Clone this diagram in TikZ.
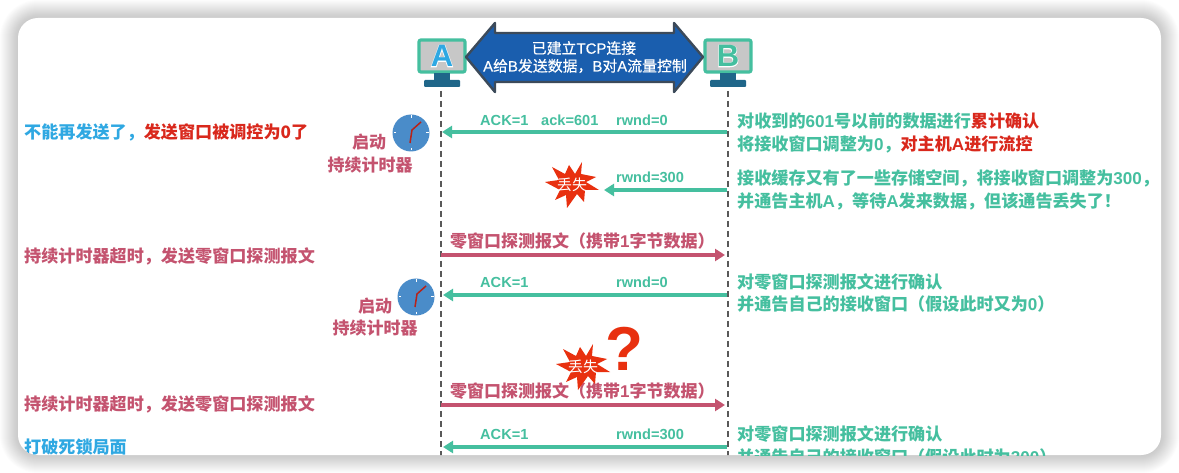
\documentclass[tikz,border=0pt]{standalone}
\usepackage{fontspec}
\setmainfont{Noto Sans CJK SC}
\newfontfamily\latfont{Liberation Sans}
\newfontfamily\linkfont[FakeBold=0.4]{Noto Sans CJK SC}
\newfontfamily\linklat[FakeBold=0.4]{Liberation Sans}
\newfontfamily\halofont[FakeBold=4]{Liberation Sans Bold}
\usetikzlibrary{arrows.meta}
\definecolor{tealc}{HTML}{45BF9F}
\definecolor{pinkc}{HTML}{C4536F}
\definecolor{redc}{HTML}{D9281C}
\definecolor{bluec}{HTML}{2FA8E2}
\definecolor{navyc}{HTML}{1A5EAE}
\definecolor{edgec}{HTML}{3C4A5A}
\definecolor{standc}{HTML}{1F6689}
\definecolor{clockc}{HTML}{4A8CC9}
\definecolor{burstc}{HTML}{E8300F}
\tikzset{
	lifeline/.style={line width=1.5pt, dash pattern=on 6pt off 4pt, color=black!65},
	ackline/.style={line width=3.2pt, color=tealc, -{Triangle[length=10pt,width=12pt]}},
	probeline/.style={line width=3.2pt, color=pinkc, -{Triangle[length=10pt,width=12pt]}},
	leftlabel/.style={anchor=west, inner sep=0pt, font=\fontsize{17.1}{17.1}\selectfont\bfseries},
	rightlabel/.style={anchor=west, inner sep=0pt, color=tealc, font=\fontsize{17.1}{17.1}\selectfont\bfseries},
	acklabel/.style={anchor=west, inner sep=0pt, color=tealc, font=\fontsize{14.6}{14.6}\selectfont\latfont\bfseries},
	probelabel/.style={anchor=west, inner sep=0pt, color=pinkc, font=\fontsize{17}{17}\selectfont\bfseries},
	timerlabel/.style={inner sep=0pt, color=pinkc, font=\fontsize{17}{17}\selectfont\bfseries},
	hostletter/.style={inner sep=0pt, font=\fontsize{31}{31}\selectfont\latfont\bfseries},
	hosthalo/.style={inner sep=0pt, color=white, font=\fontsize{31}{31}\selectfont\halofont},
	linklabel/.style={inner sep=0pt, color=white, font=\fontsize{14.9}{14.9}\selectfont\linkfont},
	lostlabel/.style={inner sep=0pt, color=white, font=\fontsize{15}{15}\selectfont}
}
\def\lat#1{{\latfont #1}}
\def\latl#1{{\linklat #1}}
% monitor centred on x=#1
\def\monitor(#1){
	\draw[line width=3.2pt, color=tealc, fill=black!22, rounded corners=2pt] (#1-23, 40) rectangle (#1+23, 72);
	\fill[standc] (#1-8, 73) rectangle (#1+8, 80);
	\fill[standc, rounded corners=1pt] (#1-18, 80) rectangle (#1+18, 87);
}
% clock centred on (#1,#2)
\def\clockface(#1,#2){
	\fill[clockc] (#1, #2) circle (18.5);
	\foreach \a in {0,90,180,270} {
		\draw[white, line width=1pt] ({#1+15*cos(\a)}, {#2+15*sin(\a)}) -- ({#1+17.5*cos(\a)}, {#2+17.5*sin(\a)});
	}
	\draw[color=redc!85!black, line width=1.5pt] (#1-1, #2+10) -- (#1+1, #2-3) -- (#1+10, #2-11);
}
% explosion centred on (#1,#2)
\def\lostburst(#1,#2)(#3){
	\begin{scope}[shift={(#1,#2)}]
		\fill[burstc] (10,-23) -- (9,-11) -- (24,-8) -- (14,-3) -- (27,5) -- (13,5) -- (12,17) -- (5,9) -- (-5,23) -- (-6,10) -- (-17,15) -- (-12,5) -- (-27,-3) -- (-13,-5) -- (-20,-18) -- (-7,-11) -- (-3,-20) -- (3,-11) -- cycle;
		\node[lostlabel] (#3) at (0,0) {丢失};
	\end{scope}
}

\begin{document}
\begin{tikzpicture}[x=1pt, y=-1pt]
	\useasboundingbox (0, 0) rectangle (1179, 473);
	
	%%%%% CARD %%%%%
	\foreach \s in {18,17,...,1} {
		\fill[black, opacity=0.011, rounded corners=20+\s] (18-\s, 18-\s) rectangle (1161+\s, 455+\s);
	}
	\fill[white, rounded corners=20] (18, 18) rectangle (1161, 455);
	
	\begin{scope}
	\clip[rounded corners=20] (18, 18) rectangle (1161, 455);
	
	%%%%% HOSTS %%%%%
	\monitor(442)
	\monitor(728)
	\node[hosthalo] (haloA) at (442, 56) {A};
	\node[hosthalo] (haloB) at (728, 56) {B};
	\node[hostletter, color=bluec] (hostA) at (442, 56) {A};
	\node[hostletter, color=tealc] (hostB) at (728, 56) {B};
	
	\coordinate (topA) at (441, 91);
	\coordinate (endA) at (441, 460);
	\coordinate (topB) at (728, 91);
	\coordinate (endB) at (728, 460);
	\draw[lifeline] (topA) -- (endA);
	\draw[lifeline] (topB) -- (endB);
	
	\draw[line width=2.4pt, color=edgec, fill=navyc, line join=round] (466, 57) -- (495, 23) -- (495, 33) -- (674, 33) -- (674, 23) -- (703, 57) -- (674, 92) -- (674, 82) -- (495, 82) -- (495, 92) -- cycle;
	\node[linklabel] (link1) at (584, 48) {已建立\latl{TCP}连接};
	\node[linklabel] (link2) at (585, 66) {\latl{A}给\latl{B}发送数据，\latl{B}对\latl{A}流量控制};
	
	%%%%% FIRST ZERO WINDOW %%%%%
	\coordinate (a1) at (442, 132);
	\coordinate (b1) at (727, 132);
	\draw[ackline] (b1) -- (a1);
	\node[acklabel] (ack1) at (480, 120) {ACK=1};
	\node[acklabel] (num1) at (541, 120) {ack=601};
	\node[acklabel] (win1) at (616, 120) {rwnd=0};
	\node[leftlabel, color=bluec] (left1) at (24, 132) {不能再发送了，\textcolor{redc}{发送窗口被调控为0了}};
	\clockface(411,133)
	\node[timerlabel] (start1) at (369, 142) {启动};
	\node[timerlabel] (timer1) at (370, 165) {持续计时器};
	\node[rightlabel] (right1) at (737, 121) {对收到的\lat{601}号以前的数据进行\textcolor{redc}{累计确认}};
	\node[rightlabel] (right2) at (737, 144) {将接收窗口调整为\lat{0}，\textcolor{redc}{对主机\lat{A}进行流控}};
	
	%%%%% LOST UPDATE %%%%%
	\coordinate (a2) at (604, 190);
	\coordinate (b2) at (727, 190);
	\draw[ackline] (b2) -- (a2);
	\node[acklabel] (win2) at (616, 177) {rwnd=300};
	\lostburst(572,185)(lost1)
	\node[rightlabel] (right3) at (737, 178) {接收缓存又有了一些存储空间，将接收窗口调整为\lat{300}，};
	\node[rightlabel] (right4) at (737, 201) {并通告主机\lat{A}，等待\lat{A}发来数据，但该通告丢失了！};
	
	%%%%% FIRST PROBE %%%%%
	\coordinate (a3) at (441, 255);
	\coordinate (b3) at (725, 255);
	\draw[probeline] (a3) -- (b3);
	\node[probelabel] (probe1) at (450, 241) {零窗口探测报文（携带\lat{1}字节数据）};
	\node[leftlabel, color=pinkc] (left2) at (24, 256) {持续计时器超时，发送零窗口探测报文};
	
	\coordinate (a4) at (443, 295);
	\coordinate (b4) at (727, 295);
	\draw[ackline] (b4) -- (a4);
	\node[acklabel] (ack2) at (480, 282) {ACK=1};
	\node[acklabel] (win3) at (616, 282) {rwnd=0};
	\clockface(416,297)
	\node[timerlabel] (start2) at (375, 306) {启动};
	\node[timerlabel] (timer2) at (375, 328) {持续计时器};
	\node[rightlabel] (right5) at (737, 282) {对零窗口探测报文进行确认};
	\node[rightlabel] (right6) at (737, 304) {并通告自己的接收窗口（假设此时又为\lat{0}）};
	
	%%%%% SECOND PROBE %%%%%
	\coordinate (a5) at (441, 405);
	\coordinate (b5) at (725, 405);
	\draw[probeline] (a5) -- (b5);
	\node[probelabel] (probe2) at (450, 391) {零窗口探测报文（携带\lat{1}字节数据）};
	\lostburst(583,367)(lost2)
	\node[inner sep=0pt, color=burstc, font=\fontsize{62}{62}\selectfont\latfont\bfseries] (query) at (624, 349) {?};
	\node[leftlabel, color=pinkc] (left3) at (24, 404) {持续计时器超时，发送零窗口探测报文};
	
	\coordinate (a6) at (443, 447);
	\coordinate (b6) at (727, 447);
	\draw[ackline] (b6) -- (a6);
	\node[acklabel] (ack3) at (480, 434) {ACK=1};
	\node[acklabel] (win4) at (616, 434) {rwnd=300};
	\node[leftlabel, color=bluec] (left4) at (24, 447) {打破死锁局面};
	\node[rightlabel] (right7) at (737, 434) {对零窗口探测报文进行确认};
	\node[rightlabel] (right8) at (737, 457) {并通告自己的接收窗口（假设此时为\lat{300}）};
	\end{scope}
\end{tikzpicture}
\end{document}
